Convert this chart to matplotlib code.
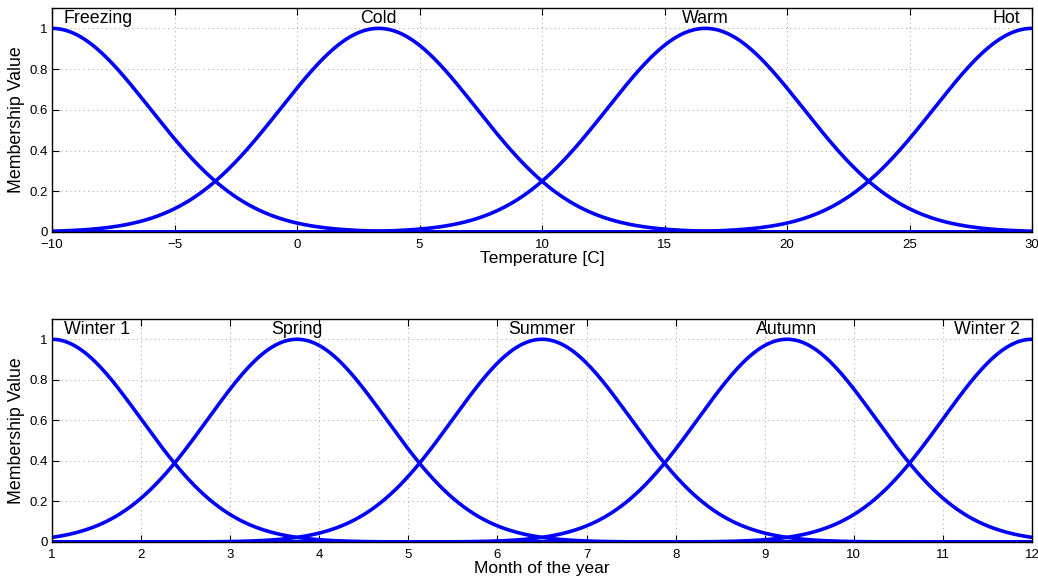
import numpy as np
import matplotlib
matplotlib.use("Agg")
import matplotlib.pyplot as plt

plt.rcParams['font.family'] = ['Liberation Sans', 'DejaVu Sans']

# Gaussian membership functions: centres and widths
temp_names = ["Freezing", "Cold", "Warm", "Hot"]
temp_centers = [-10.0, 3.333, 16.667, 30.0]
temp_sigma = [4.0, 4.0, 4.0, 4.0]
temp_range = [-10, 30]
temp_ticks = [-10, -5, 0, 5, 10, 15, 20, 25, 30]

month_names = ["Winter 1", "Spring", "Summer", "Autumn", "Winter 2"]
month_centers = [1.0, 3.75, 6.5, 9.25, 12.0]
month_sigma = [1.0, 1.0, 1.0, 1.0, 1.0]
month_range = [1, 12]
month_ticks = list(range(1, 13))

y_ticks = [0, 0.2, 0.4, 0.6, 0.8, 1.0]
y_tick_labels = ["0", "0.2", "0.4", "0.6", "0.8", "1"]


def gaussmf(x, c, s):
    return np.exp(-((x - c) ** 2) / (2 * s ** 2))


def draw_panel(ax, names, centers, sigmas, xr, xticks, xlabel):
    x = np.linspace(xr[0], xr[1], 801)
    for c, s in zip(centers, sigmas):
        ax.plot(x, gaussmf(x, c, s), color="#0000ff", lw=2.6, solid_capstyle="butt")
    ax.set_xlim(xr)
    ax.set_ylim(0, 1.1)
    ax.set_xticks(xticks)
    ax.set_xticklabels([str(t).replace("-", "\u2212") for t in xticks])
    ax.set_yticks(y_ticks)
    ax.set_yticklabels(y_tick_labels)
    ax.tick_params(direction="in", top=True, right=True, length=5, width=0.8,
                   labelsize=9.5, colors="black")
    ax.tick_params(axis="x", pad=5)
    ax.tick_params(axis="y", pad=3)
    ax.grid(True, linestyle=(0, (1, 3)), color="#b0b0b0", lw=0.8)
    for sp in ax.spines.values():
        sp.set_linewidth(1.0)
    ax.set_ylabel("Membership Value", fontsize=12.8, labelpad=3)
    ax.set_xlabel(xlabel, fontsize=12.5, labelpad=0)
    span = xr[1] - xr[0]
    for i, (n, c) in enumerate(zip(names, centers)):
        if i == 0:
            ax.text(xr[0] + 0.012 * span, 1.05, n, ha="left", va="center", fontsize=12.8)
        elif i == len(names) - 1:
            ax.text(xr[1] - 0.012 * span, 1.05, n, ha="right", va="center", fontsize=12.8)
        else:
            ax.text(c, 1.05, n, ha="center", va="center", fontsize=12.8)


fig = plt.figure(figsize=(10.38, 5.78), dpi=100)
ax1 = fig.add_axes([52 / 1038, 1 - 232 / 578, 980 / 1038, 224 / 578])
ax2 = fig.add_axes([52 / 1038, 1 - 542 / 578, 980 / 1038, 223 / 578])

draw_panel(ax1, temp_names, temp_centers, temp_sigma, temp_range, temp_ticks,
           "Temperature [C]")
draw_panel(ax2, month_names, month_centers, month_sigma, month_range, month_ticks,
           "Month of the year")

fig.savefig("out.png", dpi=100)
